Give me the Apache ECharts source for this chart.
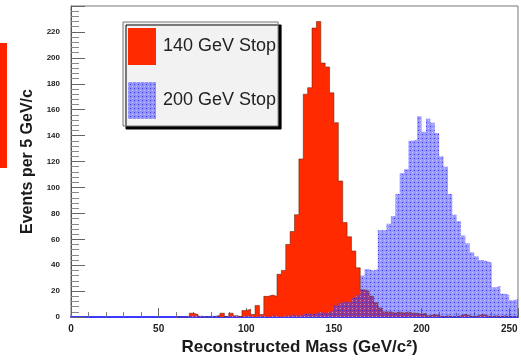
<!DOCTYPE html>
<html>
<head>
<meta charset="utf-8">
<script src="https://cdn.jsdelivr.net/npm/echarts@6/dist/echarts.min.js"></script>
<style>
  html, body { margin: 0; padding: 0; background: #ffffff; }
  #chart { width: 521px; height: 361px; }
</style>
</head>
<body>
<div id="chart"></div>
<script>
// Reconstructed stop mass, 2.5 GeV bins starting at 60 GeV
const BIN_WIDTH = 2.5;
const FIRST_BIN = 60;

const seriesNames = ['140 GeV Stop', '200 GeV Stop'];

const stop140Counts = [
  0, 0, 0, 3, 2, 0, 0, 0, 0, 1,
  3, 0, 3, 1, 0, 5, 6, 2, 9, 2,
  16, 17, 16, 33, 36, 56, 66, 79, 122, 172,
  177, 223, 228, 196, 193, 173, 150, 105, 73, 62,
  51, 38, 21, 20, 16, 11, 7, 4, 4, 3,
  4, 3, 4, 3, 3, 2, 3, 1, 2, 1,
  0, 1, 0, 0, 1, 2, 1, 0, 1, 2,
  1, 0, 1, 0, 1, 0, 0, 0
];

const stop200Counts = [
  0, 0, 1, 1, 1, 1, 0, 1, 1, 2,
  0, 1, 1, 1, 0, 1, 1, 0, 1, 1,
  0, 1, 1, 0, 1, 1, 2, 1, 2, 3,
  2, 3, 4, 3, 4, 5, 9, 11, 12, 11,
  15, 17, 32, 37, 36, 37, 67, 67, 72, 78,
  95, 111, 114, 136, 137, 155, 143, 153, 150, 142,
  124, 116, 95, 79, 74, 63, 57, 50, 47, 44,
  43, 42, 23, 24, 18, 17, 13, 14
];

const xTicks = [0, 50, 100, 150, 200, 250];
const yTicks = [0, 20, 40, 60, 80, 100, 120, 140, 160, 180, 200, 220];

// Histogram outline as step points on bin lower edges, closed at the last upper edge
function toSteps(counts) {
  const pts = counts.map((c, i) => [FIRST_BIN + i * BIN_WIDTH, c]);
  pts.push([FIRST_BIN + counts.length * BIN_WIDTH, counts[counts.length - 1]]);
  return pts;
}

// Dotted, see-through blue fill
function dottedBlue() {
  const c = document.createElement('canvas');
  c.width = 4; c.height = 4;
  const g = c.getContext('2d');
  g.fillStyle = 'rgba(70,70,255,0.55)';
  g.fillRect(0, 0, 4, 4);
  g.fillStyle = 'rgba(255,255,255,0.45)';
  g.fillRect(0, 0, 1, 1);
  g.fillStyle = 'rgba(30,30,225,0.75)';
  g.fillRect(2, 2, 1, 1);
  return { image: c, repeat: 'repeat' };
}

const RED = '#ff2a00';
const bluePattern = dottedBlue();
const FONT = '"Liberation Sans", Arial, Helvetica, sans-serif';

const chart = echarts.init(document.getElementById('chart'), null, { renderer: 'canvas' });

chart.setOption({
  animation: false,
  backgroundColor: '#ffffff',
  grid: {
    left: 71, right: 0, top: 6, bottom: 37,
    show: true, borderColor: '#777', borderWidth: 1, backgroundColor: 'transparent'
  },
  legend: {
    left: 123, top: 22,
    orient: 'vertical',
    selectedMode: false,
    icon: 'rect',
    itemWidth: 28, itemHeight: 37, itemGap: 17,
    padding: [6, 2, 7, 5],
    backgroundColor: '#f2f2f2',
    borderColor: '#777', borderWidth: 1, borderRadius: 0,
    shadowColor: '#000', shadowBlur: 0, shadowOffsetX: 3, shadowOffsetY: 3,
    textStyle: { fontFamily: FONT, fontSize: 18, color: '#222', padding: [0, 0, 0, 2] },
    data: [
      { name: seriesNames[0], itemStyle: { color: RED } },
      { name: seriesNames[1], itemStyle: { color: bluePattern } }
    ]
  },
  xAxis: {
    type: 'value',
    min: 0, max: 255, interval: 50,
    name: 'Reconstructed Mass (GeV/c²)',
    nameLocation: 'middle', nameGap: 20,
    nameTextStyle: { fontFamily: FONT, fontSize: 17, fontWeight: 'bold', color: '#1a1a1a', padding: [0, 0, 0, 10] },
    axisLine: { show: true, lineStyle: { color: '#3b3bff', width: 2 } },
    axisTick: { show: true, inside: true, length: 9, lineStyle: { color: '#666' } },
    minorTick: { show: true, splitNumber: 5, length: 5, lineStyle: { color: '#777' } },
    axisLabel: {
      fontFamily: FONT, fontSize: 10, fontWeight: 'bold', color: '#222', margin: 7,
      formatter: v => (xTicks.includes(v) ? String(v) : '')
    },
    splitLine: { show: false }
  },
  yAxis: {
    type: 'value',
    min: 0, max: 240, interval: 20,
    name: 'Events per 5 GeV/c',
    nameLocation: 'middle', nameGap: 34, nameRotate: 90,
    nameTextStyle: { fontFamily: FONT, fontSize: 16, fontWeight: 'bold', color: '#1a1a1a' },
    axisLine: { show: true, lineStyle: { color: '#555', width: 1 } },
    axisTick: { show: true, inside: true, length: 14, lineStyle: { color: '#666' } },
    minorTick: { show: true, splitNumber: 5, length: 8, lineStyle: { color: '#888' } },
    axisLabel: {
      fontFamily: FONT, fontSize: 8, fontWeight: 'bold', color: '#222', margin: 11,
      formatter: v => (yTicks.includes(v) ? String(v) : '')
    },
    splitLine: { show: false }
  },
  graphic: [
    { type: 'rect', left: 0, top: 43, shape: { width: 7, height: 125 }, style: { fill: '#ff2200' }, silent: true }
  ],
  series: [
    {
      name: seriesNames[0],
      type: 'line',
      step: 'end',
      symbol: 'none',
      data: toSteps(stop140Counts),
      itemStyle: { color: RED },
      lineStyle: { color: 'rgba(90,25,0,0.5)', width: 1 },
      areaStyle: { color: RED, opacity: 1 }
    },
    {
      name: seriesNames[1],
      type: 'line',
      step: 'end',
      symbol: 'none',
      data: toSteps(stop200Counts),
      itemStyle: { color: bluePattern },
      lineStyle: { width: 0, opacity: 0 },
      areaStyle: { color: bluePattern, opacity: 1 }
    }
  ]
});
</script>
</body>
</html>
